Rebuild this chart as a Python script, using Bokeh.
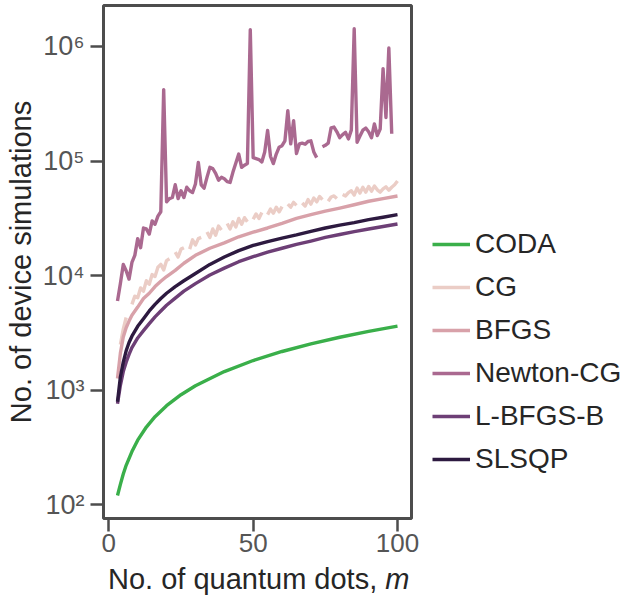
from bokeh.plotting import figure
from bokeh.models import (Range1d, FixedTicker, CustomJSTickFormatter, Legend,
                          LegendItem, Div)
from bokeh.layouts import column
from bokeh.embed import file_html
from bokeh.resources import INLINE

nan = float("nan")

# ---------------- data ----------------
smooth_m = [3, 4, 5, 6, 7, 8, 10, 12, 14, 16, 18, 20, 23, 26, 30, 35, 40, 45,
            50, 55, 60, 65, 70, 75, 80, 85, 90, 95, 100]
bfgs = [1260, 2100, 2900, 3500, 4000, 4500, 5300, 6300, 7000, 8000, 8900, 9800,
        11100, 12800, 15000, 17300, 19300, 21800, 23900, 26000, 28500, 31500,
        34000, 36500, 38800, 41500, 44500, 47000, 49500]
slsqp = [790, 1300, 1750, 2200, 2600, 2950, 3600, 4200, 4900, 5600, 6300, 7000,
         8000, 9000, 10400, 12500, 14500, 16500, 18300, 19800, 21200, 22600,
         24300, 26000, 27500, 29000, 30800, 32300, 34000]
lbfgsb = [760, 1100, 1450, 1750, 2050, 2350, 2850, 3300, 3800, 4350, 4900, 5500,
          6350, 7300, 8500, 10100, 11600, 13200, 14600, 16000, 17300, 18700,
          20000, 21500, 22800, 24200, 25500, 26800, 28200]

coda_m = [3, 4, 5, 6, 8, 10, 13, 16, 20, 25, 30, 40, 50, 60, 70, 80, 90, 100]
coda = [120, 150, 185, 220, 290, 365, 475, 585, 730, 910, 1090, 1450, 1810,
        2170, 2530, 2890, 3250, 3610]

newton_m = list(range(3, 99))
newton = [6000, 8500, 12500, 11000, 9300, 13000, 15000, 21000, 17500, 26000,
          25500, 23000, 30000, 28000, 33000, 36000, 420000, 44000, 47000, 48000,
          62000, 47000, 55000, 48000, 59000, 55000, 53000, 63000, 97000, 62000,
          58000, 72000, 88000, 86000, 78000, 68000, 72000, 70000, 66000, 65000,
          80000, 96000, 115000, 88000, 92000, 95000, 1400000, 107000, 105000, 103000,
          98000, 120000, 185000, 110000, 95000, 115000, 132000, 136000, 150000, 275000,
          141000, 225000, 116000, 141000, 143000, 140000, 148000, 150000, 120000, 107000,
          nan, 133000, 137000, 143000, 195000, 198000, 180000, 160000, 170000, 178000,
          156000, 186000, 1430000, 146000, 165000, 186000, 194000, 180000, 160000, 211000,
          167000, 190000, 640000, 240000, 970000, 173000]

cg_m = list(range(4, 101))
cg = [2500, 3400, 4300, nan, 5600, 6600, 6400, 7800, 7300, 9000,
      8400, 10200, 9800, 11800, 12500, 11200, 13500, 14000, nan, 16000,
      14500, 17000, 17500, nan, 17000, 20500, 18500, 21000, 21500, nan,
      24000, 21500, 25500, 22500, 27000, 25000, nan, 28500, 25500, 29500,
      26500, 31500, 28000, 32000, 29500, nan, 31000, 34500, 31500, 35500,
      nan, 34000, 38000, 35000, 39500, 36000, 40000, nan, 42000, 39500,
      43500, 41000, nan, 43000, 40500, 46000, 42000, 47500, 44000, 49000,
      46000, nan, 44500, 48500, 49500, 47000, nan, 51000, 49500, 53000,
      55000, 50500, 58000, 52500, 59000, 53500, 60000, 54500, 60500, 56000,
      53500, 57000, 59500, 55500, 59000, 62000, 67000]

x_ticks = [0, 50, 100]
y_ticks = [1e2, 1e3, 1e4, 1e5, 1e6]
labels = ["CODA", "CG", "BFGS", "Newton-CG", "L-BFGS-B", "SLSQP"]
colors = {"CODA": "#3aaf4a", "CG": "#ebcdc6", "BFGS": "#d8a1a9",
          "Newton-CG": "#aa6990", "L-BFGS-B": "#6d3f76", "SLSQP": "#2d1a40"}

FONT = "Liberation Sans"
SPINE = "#4d4d4d"

p = figure(y_axis_type="log", frame_width=308, frame_height=513,
           min_border_left=103, min_border_right=215, min_border_top=5,
           min_border_bottom=45,
           x_range=Range1d(-1.85, 104.85),
           y_range=Range1d(10 ** 1.878, 10 ** 6.358),
           output_backend="svg", toolbar_location=None)
p.background_fill_color = "white"
p.border_fill_color = "white"
p.outline_line_color = SPINE
p.outline_line_width = 3
p.xgrid.visible = False
p.ygrid.visible = False

p.xaxis.ticker = FixedTicker(ticks=x_ticks)
p.yaxis.ticker = FixedTicker(ticks=y_ticks)
p.yaxis.formatter = CustomJSTickFormatter(code="""
const sup = {"0":"\\u2070","1":"\\u00b9","2":"\\u00b2","3":"\\u00b3","4":"\\u2074",
             "5":"\\u2075","6":"\\u2076","7":"\\u2077","8":"\\u2078","9":"\\u2079","-":"\\u207b"};
const e = Math.round(Math.log10(tick));
return "10" + String(e).split("").map(c => sup[c]).join("");
""")
for ax in (p.xaxis[0], p.yaxis[0]):
    ax.axis_line_color = None
    ax.major_tick_line_color = SPINE
    ax.major_tick_line_width = 2.5
    ax.major_tick_out = 13
    ax.major_tick_in = 0
    ax.minor_tick_line_color = None
    ax.major_label_text_font = FONT
    ax.major_label_text_color = "#555555"
p.xaxis.major_label_text_font_size = "26px"
p.yaxis.major_label_text_font_size = "27px"
p.xaxis.major_label_standoff = 2
p.yaxis.major_label_standoff = 6

p.yaxis.axis_label = "No. of device simulations"
p.yaxis.axis_label_text_font = FONT
p.yaxis.axis_label_text_font_size = "29px"
p.yaxis.axis_label_text_font_style = "normal"
p.yaxis.axis_label_text_color = "#262626"
p.yaxis.axis_label_standoff = 3

LW = 3.4
renderers = {}
renderers["CG"] = p.line(cg_m, cg, line_color=colors["CG"], line_width=LW, line_join="round")
renderers["BFGS"] = p.line(smooth_m, bfgs, line_color=colors["BFGS"], line_width=LW, line_join="round")
renderers["Newton-CG"] = p.line(newton_m, newton, line_color=colors["Newton-CG"], line_width=LW, line_join="round")
renderers["L-BFGS-B"] = p.line(smooth_m, lbfgsb, line_color=colors["L-BFGS-B"], line_width=LW, line_join="round")
renderers["SLSQP"] = p.line(smooth_m, slsqp, line_color=colors["SLSQP"], line_width=LW, line_join="round")
renderers["CODA"] = p.line(coda_m, coda, line_color=colors["CODA"], line_width=LW, line_join="round")

legend = Legend(items=[LegendItem(label=l, renderers=[renderers[l]]) for l in labels],
                location=(21, 42), orientation="vertical",
                border_line_color=None, background_fill_alpha=0,
                padding=0, margin=0, spacing=9, label_height=34, glyph_height=34,
                glyph_width=38, label_standoff=5,
                label_text_font=FONT, label_text_font_size="28px",
                label_text_color="#262626")
p.add_layout(legend, "right")

xlabel = Div(text=('<div style="margin-left:103px;font-family:\'Liberation Sans\';'
                   'font-size:29px;line-height:22px;color:#262626;white-space:nowrap;">'
                   'No. of quantum dots, <i>m</i></div>'),
             width=520, height=30)

layout = column(p, xlabel, spacing=0)
open("out.html", "w", encoding="utf-8").write(file_html(layout, INLINE))
